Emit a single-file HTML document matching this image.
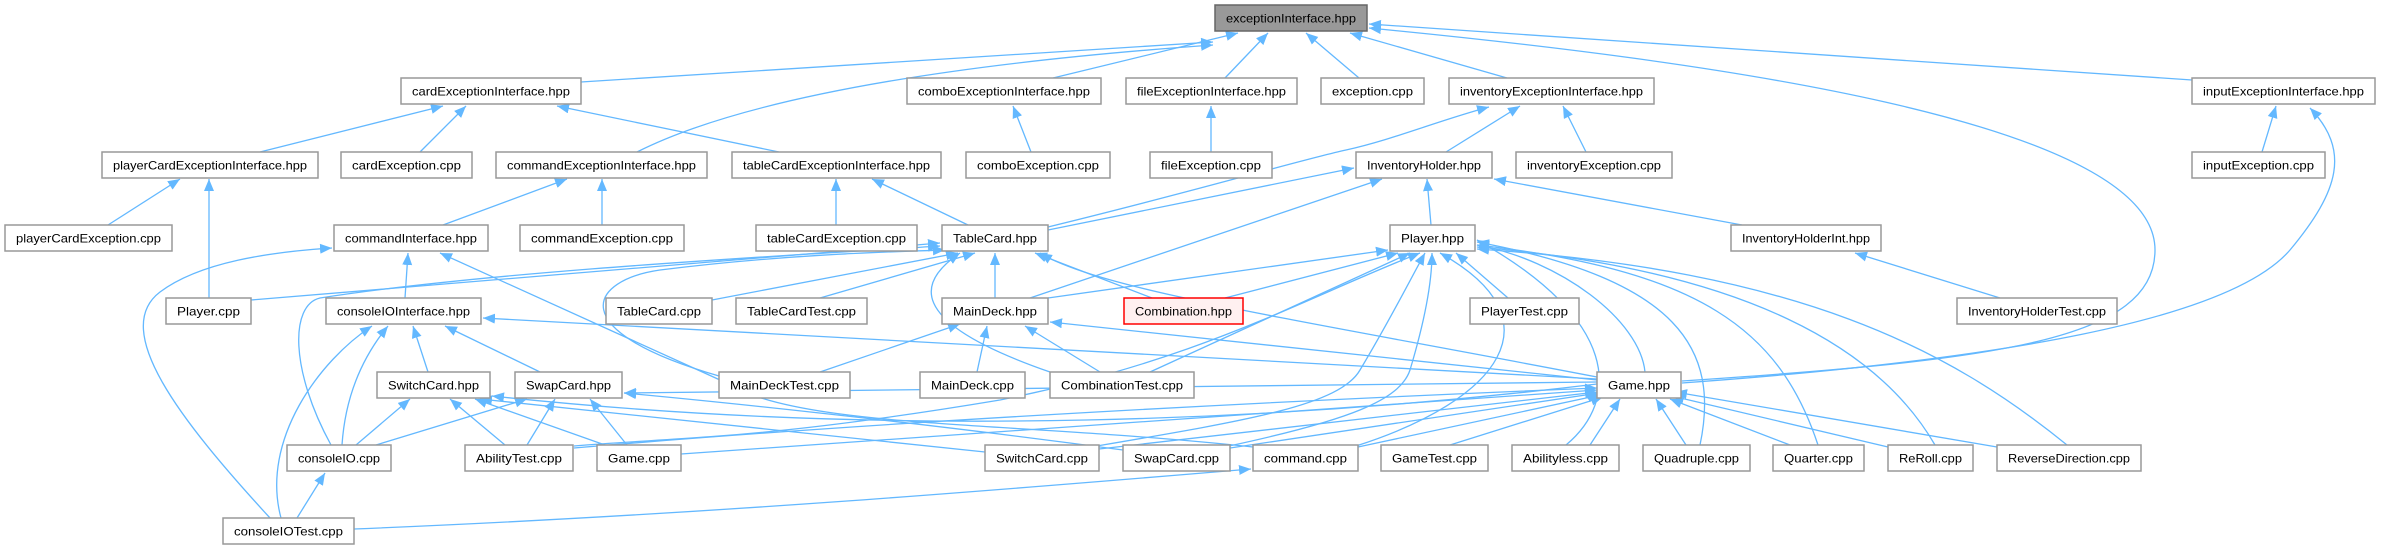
<!DOCTYPE html>
<html><head><meta charset="utf-8"><style>
html,body{margin:0;padding:0;background:#fff;}
svg{display:block;}
text{font-family:"Liberation Sans",sans-serif;font-size:12px;fill:#000;}
.e{fill:none;stroke:#63b8ff;stroke-width:1.3;marker-end:url(#a);}
.n{fill:#fff;stroke:#999;stroke-width:1.5;}
</style></head><body>
<svg width="2381" height="549" viewBox="0 0 2381 549" xmlns="http://www.w3.org/2000/svg">
<defs><marker id="a" markerUnits="userSpaceOnUse" markerWidth="14" markerHeight="12" refX="12" refY="5" orient="auto"><path d="M0,0 L12,5 L0,10 z" fill="#63b8ff"/></marker></defs>
<g>
<path class="e" d="M581,82 L1213,42"/>
<path class="e" d="M637,152 C760,90 1000,60 1213,45"/>
<path class="e" d="M1053,78 L1238,33"/>
<path class="e" d="M1225,78 L1268,33"/>
<path class="e" d="M1359,78 L1306,33"/>
<path class="e" d="M1507,78 L1350,33"/>
<path class="e" d="M2192,80 L1369,24"/>
<path class="e" d="M1682,381 C2000,360 2155,340 2155,250 C2155,120 1700,60 1369,28"/>
<path class="e" d="M1682,383 C2000,360 2230,320 2290,250 C2340,190 2350,150 2310,108"/>
<path class="e" d="M1048,227 C1200,190 1300,160 1346,150 S1440,120 1489,107"/>
<path class="e" d="M1446,152 L1520,106"/>
<path class="e" d="M1586,152 L1563,106"/>
<path class="e" d="M260,152 L443,106"/>
<path class="e" d="M420,152 L466,106"/>
<path class="e" d="M779,152 L557,106"/>
<path class="e" d="M108,225 L180,179"/>
<path class="e" d="M209,298 L209,179"/>
<path class="e" d="M443,225 L567,179"/>
<path class="e" d="M602,225 L602,179"/>
<path class="e" d="M1031,152 L1013,106"/>
<path class="e" d="M1211,152 L1211,106"/>
<path class="e" d="M836,225 L836,179"/>
<path class="e" d="M968,225 L872,179"/>
<path class="e" d="M2262,152 L2276,106"/>
<path class="e" d="M1048,230 L1354,168"/>
<path class="e" d="M1030,298 L1382,179"/>
<path class="e" d="M1431,225 L1427,179"/>
<path class="e" d="M1742,225 L1494,179"/>
<path class="e" d="M2000,298 L1855,253"/>
<path class="e" d="M405,298 L408,253"/>
<path class="e" d="M270,518 C180,420 110,330 160,292 C200,262 270,252 332,248"/>
<path class="e" d="M1253,447 C1000,420 800,430 720,380 L440,253"/>
<path class="e" d="M251,300 L940,243"/>
<path class="e" d="M712,300 L958,253"/>
<path class="e" d="M820,298 L975,253"/>
<path class="e" d="M995,298 L995,253"/>
<path class="e" d="M1152,298 L1035,253"/>
<path class="e" d="M331,445 C290,370 290,305 320,298 C500,270 800,255 940,246"/>
<path class="e" d="M719,376 C560,330 590,280 660,270 C780,255 880,252 945,250"/>
<path class="e" d="M1050,372 C900,320 920,280 960,253"/>
<path class="e" d="M1597,377 C1300,320 1100,290 1040,253"/>
<path class="e" d="M1048,298 L1388,250"/>
<path class="e" d="M1225,298 L1398,253"/>
<path class="e" d="M1150,372 L1410,253"/>
<path class="e" d="M1508,298 L1456,253"/>
<path class="e" d="M1645,372 C1640,320 1560,260 1477,245"/>
<path class="e" d="M574,446 C680,437 760,440 1000,400 C1200,360 1300,300 1420,253"/>
<path class="e" d="M1097,446 C1250,420 1340,405 1360,370 C1390,320 1410,280 1425,253"/>
<path class="e" d="M1229,446 C1350,420 1400,400 1410,370 C1425,320 1432,280 1432,253"/>
<path class="e" d="M1356,446 C1500,400 1560,320 1440,253"/>
<path class="e" d="M1566,445 C1620,400 1620,320 1477,240"/>
<path class="e" d="M1700,445 C1720,350 1680,280 1477,242"/>
<path class="e" d="M1818,445 C1780,330 1700,270 1477,245"/>
<path class="e" d="M1935,445 C1880,350 1750,270 1477,247"/>
<path class="e" d="M2067,445 C1950,350 1800,270 1477,249"/>
<path class="e" d="M1597,379 L483,318"/>
<path class="e" d="M1597,380 L1050,322"/>
<path class="e" d="M1597,384 C1300,420 900,440 492,396"/>
<path class="e" d="M1597,382 L624,393"/>
<path class="e" d="M681,454 C900,440 1300,410 1597,390"/>
<path class="e" d="M574,448 C900,420 1300,400 1597,388"/>
<path class="e" d="M1099,449 L1597,392"/>
<path class="e" d="M1230,448 L1599,393"/>
<path class="e" d="M1358,447 L1600,395"/>
<path class="e" d="M1450,445 L1603,397"/>
<path class="e" d="M1590,445 L1620,399"/>
<path class="e" d="M1686,445 L1656,399"/>
<path class="e" d="M1790,445 L1670,399"/>
<path class="e" d="M1888,447 L1672,396"/>
<path class="e" d="M1997,447 L1675,392"/>
<path class="e" d="M428,372 L413,326"/>
<path class="e" d="M540,372 L445,326"/>
<path class="e" d="M342,445 C345,400 360,360 388,326"/>
<path class="e" d="M281,518 C260,440 320,360 372,326"/>
<path class="e" d="M356,445 L410,399"/>
<path class="e" d="M505,445 L450,399"/>
<path class="e" d="M605,445 L475,399"/>
<path class="e" d="M985,452 L480,399"/>
<path class="e" d="M376,445 L527,399"/>
<path class="e" d="M527,445 L555,399"/>
<path class="e" d="M627,445 L590,399"/>
<path class="e" d="M1123,450 C900,420 700,400 624,393"/>
<path class="e" d="M297,518 L325,473"/>
<path class="e" d="M354,529 C700,515 1000,490 1251,469"/>
<path class="e" d="M820,372 L960,324"/>
<path class="e" d="M977,372 L987,326"/>
<path class="e" d="M1100,372 L1025,326"/>
</g>
<g>
<rect x="1215" y="5" width="152" height="26" fill="#999" stroke="#666" stroke-width="1.5"/><text x="1291" y="22.5" text-anchor="middle" textLength="130" lengthAdjust="spacingAndGlyphs">exceptionInterface.hpp</text>

<rect class="n" x="401" y="78" width="180" height="26"/><text x="491" y="95.5" text-anchor="middle" textLength="158" lengthAdjust="spacingAndGlyphs">cardExceptionInterface.hpp</text>
<rect class="n" x="907" y="78" width="194" height="26"/><text x="1004" y="95.5" text-anchor="middle" textLength="172" lengthAdjust="spacingAndGlyphs">comboExceptionInterface.hpp</text>
<rect class="n" x="1126" y="78" width="171" height="26"/><text x="1211.5" y="95.5" text-anchor="middle" textLength="149" lengthAdjust="spacingAndGlyphs">fileExceptionInterface.hpp</text>
<rect class="n" x="1321" y="78" width="103" height="26"/><text x="1372.5" y="95.5" text-anchor="middle" textLength="81" lengthAdjust="spacingAndGlyphs">exception.cpp</text>
<rect class="n" x="1449" y="78" width="205" height="26"/><text x="1551.5" y="95.5" text-anchor="middle" textLength="183" lengthAdjust="spacingAndGlyphs">inventoryExceptionInterface.hpp</text>
<rect class="n" x="2192" y="78" width="183" height="26"/><text x="2283.5" y="95.5" text-anchor="middle" textLength="161" lengthAdjust="spacingAndGlyphs">inputExceptionInterface.hpp</text>

<rect class="n" x="102" y="152" width="216" height="26"/><text x="210" y="169.5" text-anchor="middle" textLength="194" lengthAdjust="spacingAndGlyphs">playerCardExceptionInterface.hpp</text>
<rect class="n" x="341" y="152" width="131" height="26"/><text x="406.5" y="169.5" text-anchor="middle" textLength="109" lengthAdjust="spacingAndGlyphs">cardException.cpp</text>
<rect class="n" x="496" y="152" width="211" height="26"/><text x="601.5" y="169.5" text-anchor="middle" textLength="189" lengthAdjust="spacingAndGlyphs">commandExceptionInterface.hpp</text>
<rect class="n" x="732" y="152" width="209" height="26"/><text x="836.5" y="169.5" text-anchor="middle" textLength="187" lengthAdjust="spacingAndGlyphs">tableCardExceptionInterface.hpp</text>
<rect class="n" x="966" y="152" width="144" height="26"/><text x="1038" y="169.5" text-anchor="middle" textLength="122" lengthAdjust="spacingAndGlyphs">comboException.cpp</text>
<rect class="n" x="1150" y="152" width="122" height="26"/><text x="1211" y="169.5" text-anchor="middle" textLength="100" lengthAdjust="spacingAndGlyphs">fileException.cpp</text>
<rect class="n" x="1356" y="152" width="136" height="26"/><text x="1424" y="169.5" text-anchor="middle" textLength="114" lengthAdjust="spacingAndGlyphs">InventoryHolder.hpp</text>
<rect class="n" x="1516" y="152" width="156" height="26"/><text x="1594" y="169.5" text-anchor="middle" textLength="134" lengthAdjust="spacingAndGlyphs">inventoryException.cpp</text>
<rect class="n" x="2192" y="152" width="133" height="26"/><text x="2258.5" y="169.5" text-anchor="middle" textLength="111" lengthAdjust="spacingAndGlyphs">inputException.cpp</text>

<rect class="n" x="5" y="225" width="167" height="26"/><text x="88.5" y="242.5" text-anchor="middle" textLength="145" lengthAdjust="spacingAndGlyphs">playerCardException.cpp</text>
<rect class="n" x="334" y="225" width="154" height="26"/><text x="411" y="242.5" text-anchor="middle" textLength="132" lengthAdjust="spacingAndGlyphs">commandInterface.hpp</text>
<rect class="n" x="520" y="225" width="164" height="26"/><text x="602" y="242.5" text-anchor="middle" textLength="142" lengthAdjust="spacingAndGlyphs">commandException.cpp</text>
<rect class="n" x="756" y="225" width="161" height="26"/><text x="836.5" y="242.5" text-anchor="middle" textLength="139" lengthAdjust="spacingAndGlyphs">tableCardException.cpp</text>
<rect class="n" x="942" y="225" width="106" height="26"/><text x="995" y="242.5" text-anchor="middle" textLength="84" lengthAdjust="spacingAndGlyphs">TableCard.hpp</text>
<rect class="n" x="1390" y="225" width="85" height="26"/><text x="1432.5" y="242.5" text-anchor="middle" textLength="63" lengthAdjust="spacingAndGlyphs">Player.hpp</text>
<rect class="n" x="1731" y="225" width="150" height="26"/><text x="1806" y="242.5" text-anchor="middle" textLength="128" lengthAdjust="spacingAndGlyphs">InventoryHolderInt.hpp</text>

<rect class="n" x="166" y="298" width="85" height="26"/><text x="208.5" y="315.5" text-anchor="middle" textLength="63" lengthAdjust="spacingAndGlyphs">Player.cpp</text>
<rect class="n" x="326" y="298" width="155" height="26"/><text x="403.5" y="315.5" text-anchor="middle" textLength="133" lengthAdjust="spacingAndGlyphs">consoleIOInterface.hpp</text>
<rect class="n" x="606" y="298" width="106" height="26"/><text x="659" y="315.5" text-anchor="middle" textLength="84" lengthAdjust="spacingAndGlyphs">TableCard.cpp</text>
<rect class="n" x="736" y="298" width="131" height="26"/><text x="801.5" y="315.5" text-anchor="middle" textLength="109" lengthAdjust="spacingAndGlyphs">TableCardTest.cpp</text>
<rect class="n" x="942" y="298" width="106" height="26"/><text x="995" y="315.5" text-anchor="middle" textLength="84" lengthAdjust="spacingAndGlyphs">MainDeck.hpp</text>
<rect x="1124" y="298" width="119" height="26" fill="#fff0f0" stroke="#ff0000" stroke-width="1.5"/><text x="1183.5" y="315.5" text-anchor="middle" textLength="97" lengthAdjust="spacingAndGlyphs">Combination.hpp</text>
<rect class="n" x="1470" y="298" width="109" height="26"/><text x="1524.5" y="315.5" text-anchor="middle" textLength="87" lengthAdjust="spacingAndGlyphs">PlayerTest.cpp</text>
<rect class="n" x="1957" y="298" width="160" height="26"/><text x="2037" y="315.5" text-anchor="middle" textLength="138" lengthAdjust="spacingAndGlyphs">InventoryHolderTest.cpp</text>

<rect class="n" x="377" y="372" width="113" height="26"/><text x="433.5" y="389.5" text-anchor="middle" textLength="91" lengthAdjust="spacingAndGlyphs">SwitchCard.hpp</text>
<rect class="n" x="515" y="372" width="107" height="26"/><text x="568.5" y="389.5" text-anchor="middle" textLength="85" lengthAdjust="spacingAndGlyphs">SwapCard.hpp</text>
<rect class="n" x="719" y="372" width="131" height="26"/><text x="784.5" y="389.5" text-anchor="middle" textLength="109" lengthAdjust="spacingAndGlyphs">MainDeckTest.cpp</text>
<rect class="n" x="920" y="372" width="105" height="26"/><text x="972.5" y="389.5" text-anchor="middle" textLength="83" lengthAdjust="spacingAndGlyphs">MainDeck.cpp</text>
<rect class="n" x="1050" y="372" width="144" height="26"/><text x="1122" y="389.5" text-anchor="middle" textLength="122" lengthAdjust="spacingAndGlyphs">CombinationTest.cpp</text>
<rect class="n" x="1597" y="372" width="84" height="26"/><text x="1639" y="389.5" text-anchor="middle" textLength="62" lengthAdjust="spacingAndGlyphs">Game.hpp</text>

<rect class="n" x="287" y="445" width="104" height="26"/><text x="339" y="462.5" text-anchor="middle" textLength="82" lengthAdjust="spacingAndGlyphs">consoleIO.cpp</text>
<rect class="n" x="465" y="445" width="108" height="26"/><text x="519" y="462.5" text-anchor="middle" textLength="86" lengthAdjust="spacingAndGlyphs">AbilityTest.cpp</text>
<rect class="n" x="597" y="445" width="84" height="26"/><text x="639" y="462.5" text-anchor="middle" textLength="62" lengthAdjust="spacingAndGlyphs">Game.cpp</text>
<rect class="n" x="985" y="445" width="114" height="26"/><text x="1042" y="462.5" text-anchor="middle" textLength="92" lengthAdjust="spacingAndGlyphs">SwitchCard.cpp</text>
<rect class="n" x="1123" y="445" width="107" height="26"/><text x="1176.5" y="462.5" text-anchor="middle" textLength="85" lengthAdjust="spacingAndGlyphs">SwapCard.cpp</text>
<rect class="n" x="1253" y="445" width="105" height="26"/><text x="1305.5" y="462.5" text-anchor="middle" textLength="83" lengthAdjust="spacingAndGlyphs">command.cpp</text>
<rect class="n" x="1381" y="445" width="107" height="26"/><text x="1434.5" y="462.5" text-anchor="middle" textLength="85" lengthAdjust="spacingAndGlyphs">GameTest.cpp</text>
<rect class="n" x="1512" y="445" width="107" height="26"/><text x="1565.5" y="462.5" text-anchor="middle" textLength="85" lengthAdjust="spacingAndGlyphs">Abilityless.cpp</text>
<rect class="n" x="1643" y="445" width="107" height="26"/><text x="1696.5" y="462.5" text-anchor="middle" textLength="85" lengthAdjust="spacingAndGlyphs">Quadruple.cpp</text>
<rect class="n" x="1773" y="445" width="91" height="26"/><text x="1818.5" y="462.5" text-anchor="middle" textLength="69" lengthAdjust="spacingAndGlyphs">Quarter.cpp</text>
<rect class="n" x="1888" y="445" width="85" height="26"/><text x="1930.5" y="462.5" text-anchor="middle" textLength="63" lengthAdjust="spacingAndGlyphs">ReRoll.cpp</text>
<rect class="n" x="1997" y="445" width="144" height="26"/><text x="2069" y="462.5" text-anchor="middle" textLength="122" lengthAdjust="spacingAndGlyphs">ReverseDirection.cpp</text>

<rect class="n" x="223" y="518" width="131" height="26"/><text x="288.5" y="535.5" text-anchor="middle" textLength="109" lengthAdjust="spacingAndGlyphs">consoleIOTest.cpp</text>
</g>
</svg>
</body></html>
